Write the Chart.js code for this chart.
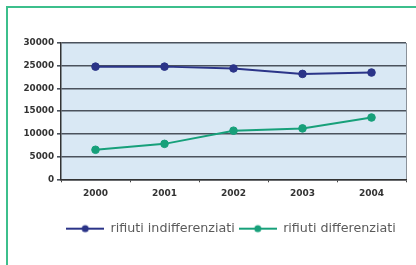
<!DOCTYPE html>
<html>
<head>
<meta charset="utf-8">
<script src="https://cdn.jsdelivr.net/npm/chart.js@4/dist/chart.umd.min.js"></script>
<style>
  html, body { margin: 0; padding: 0; background: #fff; }
  #frame { position: absolute; left: 6px; top: 6px; width: 420px; height: 270px;
           border-left: 2px solid #3cbf8c; border-top: 2px solid #3cbf8c; }
  #wrap { position: absolute; left: 0; top: 0; width: 416px; height: 265px; }
</style>
</head>
<body>
<div id="frame"></div>
<div id="wrap"><canvas id="chart" width="416" height="265"></canvas></div>
<script>
// anni e quantità (t)
const anni = ['2000', '2001', '2002', '2003', '2004'];
const indifferenziati = [24800, 24800, 24400, 23200, 23500];
const differenziati = [6500, 7800, 10700, 11200, 13600];
const yTicks = [0, 5000, 10000, 15000, 20000, 25000, 30000];

const navy = '#2b3488';
const teal = '#17a07a';
const font = '"DejaVu Sans", Verdana, sans-serif';

// simbolo della legenda: linea con pallino
function legendIcon(color) {
    const c = document.createElement('canvas');
    c.width = 38; c.height = 10;
    const g = c.getContext('2d');
    g.strokeStyle = color; g.lineWidth = 2;
    g.beginPath(); g.moveTo(0, 5); g.lineTo(38, 5); g.stroke();
    g.fillStyle = color;
    g.beginPath(); g.arc(19, 5, 3.5, 0, Math.PI * 2); g.fill();
    return c;
}

const plotBg = {
    id: 'plotBg',
    afterLayout(chart) {
        // la legenda nell'originale è spostata a destra
        chart.legend.left += 28;
        chart.legend.right += 28;
    },
    beforeDraw(chart) {
        const a = chart.chartArea, ctx = chart.ctx;
        ctx.save();
        ctx.fillStyle = '#d9e8f4';
        ctx.fillRect(a.left, a.top, a.right - a.left, a.bottom - a.top);
        ctx.strokeStyle = '#8a9199';
        ctx.lineWidth = 1;
        ctx.beginPath();
        ctx.moveTo(a.right + 0.5, a.top); ctx.lineTo(a.right + 0.5, a.bottom);
        ctx.stroke();
        ctx.restore();
    }
};

new Chart(document.getElementById('chart'), {
    type: 'line',
    data: {
        labels: anni,
        datasets: [{
            label: 'rifiuti indifferenziati',
            data: indifferenziati,
            borderColor: navy,
            backgroundColor: navy,
            borderWidth: 2,
            pointRadius: 3.8,
            pointBorderWidth: 1,
            tension: 0
        }, {
            label: 'rifiuti differenziati',
            data: differenziati,
            borderColor: teal,
            backgroundColor: teal,
            borderWidth: 2,
            pointRadius: 3.8,
            pointBorderWidth: 1,
            tension: 0
        }]
    },
    options: {
        responsive: false,
        animation: false,
        layout: { padding: { left: 0, right: 10, top: 43, bottom: 20 } },
        plugins: {
            tooltip: { enabled: false },
            legend: {
                position: 'bottom',
                labels: {
                    color: '#5a5a5a',
                    font: { family: font, size: 12.7 },
                    usePointStyle: true,
                    pointStyleWidth: 38,
                    padding: 4,
                    generateLabels(chart) {
                        return chart.data.datasets.map((ds, i) => ({
                            text: ds.label,
                            pointStyle: legendIcon(ds.borderColor),
                            fillStyle: ds.borderColor,
                            strokeStyle: ds.borderColor,
                            lineWidth: 0,
                            hidden: false,
                            datasetIndex: i,
                            fontColor: '#5a5a5a'
                        }));
                    }
                }
            }
        },
        scales: {
            x: {
                offset: true,
                grid: { offset: true, display: true, drawOnChartArea: false, drawTicks: true,
                        tickLength: 3, color: '#444' },
                border: { color: '#333', width: 1.5 },
                ticks: { color: '#333', padding: 6,
                         font: { family: font, size: 9, weight: 'bold' } },
                afterFit(s) { s.height = 39; }
            },
            y: {
                min: 0, max: 30000,
                afterBuildTicks(s) { s.ticks = yTicks.map(v => ({ value: v })); },
                grid: { color: '#4b525c', lineWidth: 1.6, tickLength: 4 },
                border: { color: '#333', width: 1.5 },
                ticks: { color: '#333', padding: 3,
                         font: { family: font, size: 8.8, weight: 'bold' },
                         callback: v => String(v) },
                afterFit(s) { s.width = 61; }
            }
        }
    },
    plugins: [plotBg]
});
</script>
</body>
</html>
